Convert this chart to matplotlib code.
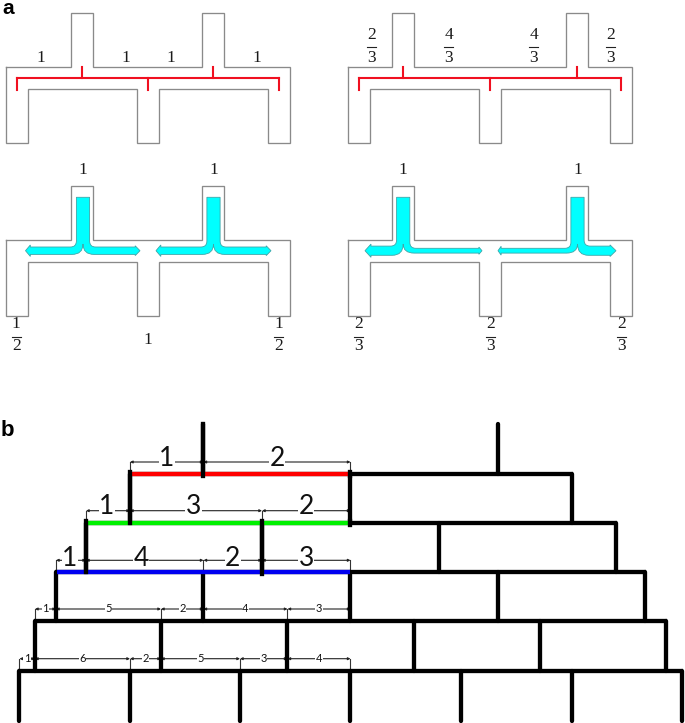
import matplotlib
matplotlib.use("Agg")
import matplotlib.pyplot as plt
from matplotlib.path import Path
from matplotlib.patches import PathPatch

# panel a : outline of the two stub pieces
stubs_gauche = [71.5, 202.5]
pieds_gauche = [6, 137, 268]
stubs_droite = [392, 566.5]
pieds_droite = [348.5, 479.5, 610.5]
largeur = 22

# red bars
rouge_gauche = [17, 148, 279]
rouge_droite = [359.5, 490.5, 621.5]

# labels panel a
haut_gauche = [("1", 41), ("1", 125.5), ("1", 170.5), ("1", 257)]
haut_droite = [("2", "3", 371.3), ("4", "3", 449), ("4", "3", 533.7), ("2", "3", 610.7)]
bas_gauche = [("1", "2", 16.3), (None, "1", 148), ("1", "2", 279)]
bas_droite = [("2", "3", 358.7), ("2", "3", 490.3), ("2", "3", 621.7)]

# arrows: center, left tip, left half width, right tip, right half width
fleches = [
    (83, 25.5, 3.7, 140, 3.7),
    (213.5, 156, 3.7, 271, 3.7),
    (403.2, 365, 4.6, 482, 2.4),
    (577.5, 498, 2.4, 616, 4.6),
]

# panel b : levels of the pyramid
niveaux_y = [474, 523.3, 572.3, 621, 670.7]
niveaux_x = [(130, 571.7), (86, 615.7), (56, 645), (35, 665.7), (19.5, 682)]
couleurs = ["#ff0000", "#00f000", "#0000f0"]
milieu = 350.5
montants = [
    (424, 474, [203.5, 497.7]),
    (474, 523.3, [130, 350.5, 571.7]),
    (523.3, 572.3, [86, 262, 439, 615.7]),
    (572.3, 621, [56, 203.5, 350.5, 498, 645]),
    (621, 670.7, [35, 161, 287.5, 413.7, 540, 665.7]),
    (670.7, 720.5, [19.5, 130, 240, 350.5, 461, 571.7, 682]),
]

# dimension lines above each level
cotes_y = [462, 510.7, 560.3, 609, 658.7]
cotes_x = [
    [130, 203.5, 350.5],
    [86, 130, 262, 350.5],
    [56, 86, 203.5, 262, 350.5],
    [35, 56, 161, 203.5, 287.5, 350.5],
    [19.5, 35, 130, 161, 240, 287.5, 350.5],
]
cotes_txt = [
    ["1", "2"],
    ["1", "3", "2"],
    ["1", "4", "2", "3"],
    ["1", "5", "2", "4", "3"],
    ["1", "6", "2", "5", "3", "4"],
]
cotes_taille = [19, 19, 19, 8, 8]
cotes_dy = [-4, -4, -2, -0.5, -0.5]
cotes_dx = {(1, 0): -1, (1, 1): -2.5, (2, 0): -1, (2, 1): -3.5}

GRIS = "#8a8a8a"
SERIF = "Liberation Serif"
EP = 3.1

fig = plt.figure(figsize=(6.85, 7.23), dpi=100)
ax = fig.add_axes([0, 0, 1, 1])
ax.set_xlim(0, 685)
ax.set_ylim(723, 0)
ax.axis("off")


def contour(stubs, pieds, dy):
    # walk around the piece, clockwise from the top left corner
    haut, epaule, canal, bas = 12.5 + dy, 67 + dy, 88.5 + dy, 143 + dy
    xs = [pieds[0]]
    ys = [epaule]
    for s in stubs:
        xs += [s, s, s + largeur, s + largeur]
        ys += [epaule, haut, haut, epaule]
    fin = pieds[-1] + largeur
    xs += [fin, fin, pieds[2]]
    ys += [epaule, bas, bas]
    xs += [pieds[2], pieds[1] + largeur, pieds[1] + largeur, pieds[1], pieds[1]]
    ys += [canal, canal, bas, bas, canal]
    xs += [pieds[0] + largeur, pieds[0] + largeur, pieds[0], pieds[0]]
    ys += [canal, bas, bas, epaule]
    ax.plot(xs, ys, color=GRIS, lw=0.95, solid_joinstyle="miter")


def rouge(barres, stubs):
    y = 77.5
    ax.plot([barres[0], barres[-1]], [y, y], color="#f01020", lw=1.5)
    for x in barres:
        ax.plot([x, x], [y, 89.5], color="#f01020", lw=1.5)
    for s in stubs:
        ax.plot([s + largeur / 2] * 2, [66.5, y], color="#f01020", lw=1.5)


def fraction(num, den, x, y_num, y_bar, y_den):
    ax.text(x, y_den, den, family=SERIF, fontsize=12.5, ha="center", va="center", color="#1a1a1a")
    if num is None:
        return
    ax.text(x, y_num, num, family=SERIF, fontsize=12.5, ha="center", va="center", color="#1a1a1a")
    ax.plot([x - 4.5, x + 4.5], [y_bar, y_bar], color="#222222", lw=0.8)


def fleche(xc, x_g, hl_g, x_d, hl_d):
    # T shaped cyan arrow, heads get bigger with the arm
    s, ytop, ym = 6.6, 197.3, 250.7
    tete_g, tete_d = hl_g * 1.3, hl_d * 1.3
    larg_g, larg_d = hl_g + 2, hl_d + 1.2
    sommets = [
        (xc - s, ytop), (xc - s, ym - hl_g - 6), (xc - s, ym - hl_g), (xc - s - 6, ym - hl_g),
        (x_g + tete_g, ym - hl_g), (x_g + tete_g, ym - larg_g), (x_g, ym),
        (x_g + tete_g, ym + larg_g), (x_g + tete_g, ym + hl_g),
        (xc - 11, ym + hl_g), (xc, ym + hl_g), (xc, 244),
        (xc, ym + hl_d), (xc + 11, ym + hl_d),
        (x_d - tete_d, ym + hl_d), (x_d - tete_d, ym + larg_d), (x_d, ym),
        (x_d - tete_d, ym - larg_d), (x_d - tete_d, ym - hl_d),
        (xc + s + 6, ym - hl_d), (xc + s, ym - hl_d), (xc + s, ym - hl_d - 6),
        (xc + s, ytop), (xc - s, ytop),
    ]
    codes = [Path.MOVETO, Path.LINETO, Path.CURVE3, Path.CURVE3,
             Path.LINETO, Path.LINETO, Path.LINETO, Path.LINETO, Path.LINETO,
             Path.LINETO, Path.CURVE3, Path.CURVE3, Path.CURVE3, Path.CURVE3,
             Path.LINETO, Path.LINETO, Path.LINETO, Path.LINETO, Path.LINETO,
             Path.LINETO, Path.CURVE3, Path.CURVE3,
             Path.LINETO, Path.CLOSEPOLY]
    ax.add_patch(PathPatch(Path(sommets, codes), facecolor="#00ffff", edgecolor="#3fa5a8", lw=0.6, zorder=3))


# panel a
contour(stubs_gauche, pieds_gauche, 0)
contour(stubs_droite, pieds_droite, 0)
contour(stubs_gauche, pieds_gauche, 173)
contour(stubs_droite, pieds_droite, 173)
rouge(rouge_gauche, stubs_gauche)
rouge(rouge_droite, stubs_droite)

for t, x in haut_gauche:
    ax.text(x, 58.5, t, family=SERIF, fontsize=12.5, ha="center", va="center", color="#1a1a1a")
for num, den, x in haut_droite:
    fraction(num, den, x, 35, 47, 57.5)
for s in stubs_gauche + stubs_droite:
    ax.text(s + largeur / 2, 169.5, "1", family=SERIF, fontsize=12.5, ha="center", va="center", color="#1a1a1a")
for num, den, x in bas_gauche + bas_droite:
    fraction(num, den, x, 324, 337, 346 if num else 340)
for f in fleches:
    fleche(*f)

ax.text(2, 14.5, "a", family="Liberation Sans", fontsize=15, fontweight="bold", va="baseline")
ax.text(1, 436, "b", family="Liberation Sans", fontsize=16, fontweight="bold", va="baseline")

# panel b
for y0, y1, xs in montants:
    for x in xs:
        ax.plot([x, x], [y0, y1], color="black", lw=EP, solid_capstyle="round", zorder=4)

for i, y in enumerate(niveaux_y):
    x0, x1 = niveaux_x[i]
    ax.plot([x0 - 1, x1 + 1], [y, y], color="black", lw=EP, solid_capstyle="butt", zorder=4)
    if i < len(couleurs):
        ax.plot([x0 + 1.5, milieu], [y, y], color=couleurs[i], lw=EP, solid_capstyle="butt", zorder=5)
# the thick stubs stay black on top of the coloured bars
ax.plot([203.5, 203.5], [424, 476], color="black", lw=EP, zorder=6)
ax.plot([130, 130], [472, 523.3], color="black", lw=EP, zorder=6)
ax.plot([350.5, 350.5], [472, 476], color="black", lw=EP, zorder=6)
ax.plot([86, 86], [521, 572], color="black", lw=EP, zorder=6)
ax.plot([262, 262], [521, 574], color="black", lw=EP, zorder=6)
ax.plot([350.5, 350.5], [521, 525], color="black", lw=EP, zorder=6)

for i, y in enumerate(cotes_y):
    xs = cotes_x[i]
    for x in xs:
        ax.plot([x, x], [y, niveaux_y[i]], color="#333333", lw=0.8, zorder=2)
    for k in range(len(xs) - 1):
        ax.annotate("", xy=(xs[k + 1], y), xytext=(xs[k], y),
                    arrowprops=dict(arrowstyle="<|-|>", mutation_scale=3.5, color="#222222",
                                    lw=0.8, shrinkA=0, shrinkB=0), zorder=2)
        milieu_x = (xs[k] + xs[k + 1]) / 2 + cotes_dx.get((i, k), 0)
        ax.text(milieu_x, y + cotes_dy[i], cotes_txt[i][k], family="Lato", fontsize=cotes_taille[i],
                ha="center", va="center", color="#111111", zorder=3,
                bbox=dict(facecolor="white", edgecolor="none", pad=0.4))

fig.savefig("out.png", dpi=100)
